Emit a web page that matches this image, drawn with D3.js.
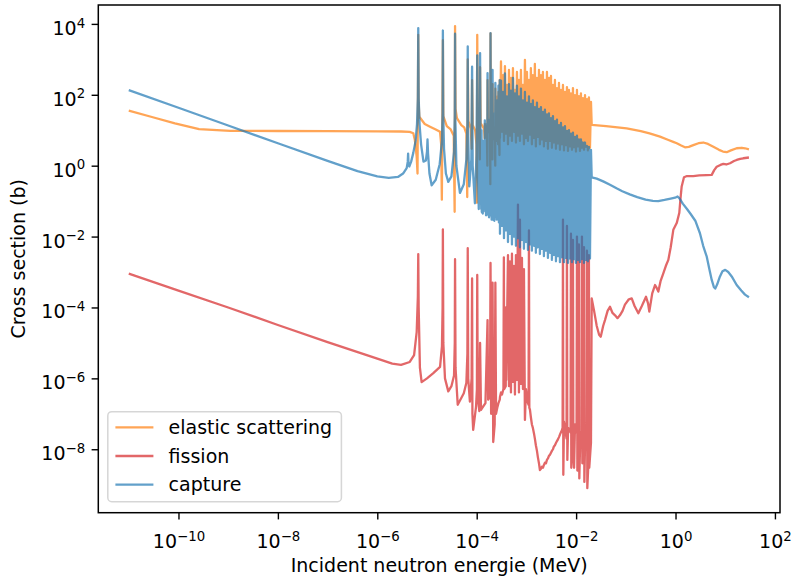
<!DOCTYPE html>
<html>
<head>
<meta charset="utf-8">
<script src="https://cdn.jsdelivr.net/npm/d3@7"></script>
<style>
  body { margin: 0; background: #fff; }
  text { font-family: "DejaVu Sans", sans-serif; }
</style>
</head>
<body>
<svg id="chart" width="792" height="580"></svg>
<script>
// ---------- data (energy in MeV, cross section in barns) ----------

// Thermal and low resolved-resonance range
const elasticLow = [
  [1e-11, 35.5], [2.8e-11, 24], [8.5e-11, 15.7], [2.6e-10, 10.8], [1.1e-9, 9.6], [1e-8, 9.5],
  [1e-7, 9.4], [1e-6, 9.3], [3e-6, 9.2], [4.5e-6, 9.0], [5.3e-6, 8.2], [5.7e-6, 5.3], [6.2e-6, 1.8],
  [6.45e-6, 0.6], [6.67e-6, 4900], [6.8e-6, 60], [7.0e-6, 24], [9.0e-6, 15], [1.15e-5, 12.6],
  [1.5e-5, 10.5], [1.83e-5, 9], [1.93e-5, 4], [1.99e-5, 0.11], [2.087e-5, 3500], [2.13e-5, 25],
  [2.5e-5, 13], [3.0e-5, 10.5], [3.45e-5, 7], [3.6e-5, 0.05], [3.668e-5, 8700], [3.75e-5, 40],
  [4.0e-5, 22], [4.9e-5, 14], [5.6e-5, 12], [6.2e-5, 8], [6.45e-5, 0.13], [6.603e-5, 1000],
  [6.8e-5, 18], [7.6e-5, 11], [7.95e-5, 3], [8.075e-5, 260], [8.3e-5, 14], [9.3e-5, 10],
  [9.9e-5, 4], [1.01e-4, 0.09], [1.025e-4, 4900], [1.05e-4, 20], [1.12e-4, 10], [1.155e-4, 1.5],
  [1.169e-4, 600], [1.2e-4, 16], [1.4e-4, 11], [1.45e-4, 6], [1.457e-4, 15], [1.6e-4, 9],
  [1.64e-4, 1], [1.653e-4, 260], [1.7e-4, 14], [1.85e-4, 8], [1.88e-4, 0.3], [1.897e-4, 5400],
  [1.93e-4, 16], [2.05e-4, 7], [2.07e-4, 1.5], [2.085e-4, 200], [2.12e-4, 13], [2.33e-4, 5],
  [2.36e-4, 1], [2.374e-4, 150], [2.42e-4, 12], [2.49e-4, 5], [2.506e-4, 30], [2.6e-4, 6],
  [2.637e-4, 90], [2.69e-4, 4], [2.737e-4, 120], [2.8e-4, 12], [2.87e-4, 2], [2.91e-4, 260]
];

const fissionLow = [
  [1e-11, 9e-4], [1e-10, 3e-4], [1e-9, 1e-4], [1e-8, 3.2e-5], [1e-7, 1.05e-5], [1e-6, 3.6e-6],
  [2e-6, 2.6e-6], [3.0e-6, 2.4e-6], [4.5e-6, 2.9e-6], [5.5e-6, 4.5e-6], [6.2e-6, 2e-5],
  [6.55e-6, 2e-4], [6.67e-6, 3.2e-3], [6.8e-6, 1e-4], [7.2e-6, 2e-6], [7.8e-6, 7.8e-7],
  [1.0e-5, 1.0e-6], [1.34e-5, 1.4e-6], [1.83e-5, 2.1e-6], [2.0e-5, 8e-6], [2.06e-5, 1e-4],
  [2.087e-5, 0.016], [2.13e-5, 1e-5], [2.3e-5, 1e-6], [2.68e-5, 4.3e-7], [3.1e-5, 6e-7],
  [3.5e-5, 1.2e-6], [3.62e-5, 1e-5], [3.668e-5, 2.3e-3], [3.75e-5, 2e-6], [4.15e-5, 1.8e-7],
  [5.5e-5, 3.8e-7], [6.2e-5, 7.5e-7], [6.5e-5, 5e-6], [6.603e-5, 4.7e-3], [6.75e-5, 1e-6],
  [7.3e-5, 2.2e-7], [7.9e-5, 1e-6], [8.075e-5, 6.6e-4], [8.2e-5, 1e-7], [8.5e-5, 3.5e-8],
  [9.7e-5, 1.6e-7], [1.01e-4, 5e-7], [1.025e-4, 8.3e-4], [1.05e-4, 3e-7], [1.13e-4, 1.2e-7],
  [1.169e-4, 1e-5], [1.22e-4, 1.3e-7], [1.5e-4, 2e-7], [1.653e-4, 4.4e-5], [1.7e-4, 2.5e-7],
  [1.85e-4, 3e-7], [1.897e-4, 1.8e-3], [1.95e-4, 1e-7], [2.05e-4, 2e-7], [2.085e-4, 5e-4],
  [2.15e-4, 1.6e-8], [2.3e-4, 5e-8], [2.374e-4, 5e-4], [2.45e-4, 1e-7], [2.6e-4, 1.5e-7],
  [2.737e-4, 2e-7], [2.91e-4, 2.5e-7]
];

const captureLow = [
  [1e-11, 136], [1e-10, 43], [1e-9, 13.6], [1e-8, 4.3], [1e-7, 1.37], [4e-7, 0.70], [1e-6, 0.5],
  [1.7e-6, 0.45], [2.6e-6, 0.48], [3.3e-6, 0.6], [3.9e-6, 0.85], [4.1e-6, 1.3], [4.17e-6, 2.2],
  [4.25e-6, 1.1], [4.4e-6, 0.95], [4.8e-6, 1.3], [5.3e-6, 2.3], [5.9e-6, 5], [6.3e-6, 15],
  [6.55e-6, 80], [6.67e-6, 7600], [6.8e-6, 80], [7.1e-6, 14], [7.6e-6, 4], [8.5e-6, 1.3],
  [9.5e-6, 1.4], [1.0e-5, 2.5], [1.024e-5, 5.5], [1.05e-5, 2.2], [1.12e-5, 0.6], [1.24e-5, 0.28],
  [1.5e-5, 0.4], [1.8e-5, 1.1], [2.0e-5, 5], [2.06e-5, 30], [2.087e-5, 6500], [2.12e-5, 30],
  [2.2e-5, 3], [2.4e-5, 0.6], [2.68e-5, 0.35], [3.1e-5, 0.5], [3.5e-5, 2.5], [3.62e-5, 25],
  [3.668e-5, 5300], [3.72e-5, 20], [3.9e-5, 1], [4.6e-5, 0.17], [5.5e-5, 0.3], [6.2e-5, 1.5],
  [6.5e-5, 15], [6.603e-5, 2300], [6.7e-5, 10], [7.1e-5, 0.26], [7.8e-5, 1.5], [8.075e-5, 620],
  [8.3e-5, 1], [9.2e-5, 0.087], [9.9e-5, 2], [1.025e-4, 1300], [1.06e-4, 0.6], [1.1e-4, 0.06],
  [1.15e-4, 3], [1.169e-4, 1500], [1.2e-4, 0.8], [1.235e-4, 0.06], [1.249e-4, 10], [1.265e-4, 0.05],
  [1.325e-4, 0.045], [1.337e-4, 5], [1.35e-4, 0.05], [1.44e-4, 0.5], [1.457e-4, 19], [1.48e-4, 0.3],
  [1.51e-4, 0.05], [1.524e-4, 15], [1.54e-4, 0.04], [1.575e-4, 0.045], [1.589e-4, 8], [1.6e-4, 0.06],
  [1.63e-4, 1], [1.653e-4, 410], [1.68e-4, 0.5], [1.72e-4, 0.04], [1.731e-4, 20], [1.745e-4, 0.04],
  [1.755e-4, 0.04], [1.76e-4, 6], [1.77e-4, 0.035], [1.795e-4, 0.04], [1.804e-4, 12], [1.815e-4, 0.05],
  [1.87e-4, 2], [1.897e-4, 5500], [1.93e-4, 1.5], [1.95e-4, 0.04], [1.957e-4, 10], [1.966e-4, 0.04],
  [1.978e-4, 0.04], [1.987e-4, 25], [1.997e-4, 0.03], [2.018e-4, 0.035], [2.026e-4, 8], [2.04e-4, 0.1],
  [2.06e-4, 1], [2.085e-4, 500], [2.11e-4, 0.3], [2.116e-4, 0.1], [2.122e-4, 15], [2.13e-4, 0.03],
  [2.175e-4, 0.03], [2.182e-4, 30], [2.19e-4, 0.03], [2.265e-4, 0.028], [2.274e-4, 10], [2.283e-4, 0.03],
  [2.315e-4, 0.1], [2.323e-4, 20], [2.335e-4, 0.8], [2.374e-4, 215], [2.41e-4, 0.2], [2.418e-4, 0.2],
  [2.427e-4, 40], [2.437e-4, 0.04], [2.47e-4, 0.04], [2.506e-4, 37], [2.53e-4, 0.035], [2.539e-4, 12],
  [2.55e-4, 0.03], [2.562e-4, 0.035], [2.569e-4, 20], [2.578e-4, 0.04], [2.585e-4, 0.04], [2.59e-4, 8],
  [2.6e-4, 0.1], [2.62e-4, 0.3], [2.637e-4, 71], [2.69e-4, 0.04], [2.737e-4, 180], [2.76e-4, 0.04],
  [2.77e-4, 15], [2.78e-4, 0.03], [2.791e-4, 30], [2.8e-4, 0.025], [2.82e-4, 0.025], [2.827e-4, 10],
  [2.835e-4, 0.03], [2.87e-4, 0.03], [2.879e-4, 25], [2.886e-4, 0.05], [2.91e-4, 260]
];

// Dense resolved-resonance range: shared energy points for elastic and capture
const denseEnergy = [
  2.94e-4, 3.08e-4, 3.23e-4, 3.38e-4, 3.54e-4, 3.70e-4, 3.88e-4, 4.06e-4, 4.26e-4, 4.46e-4,
  4.67e-4, 4.89e-4, 5.12e-4, 5.36e-4, 5.62e-4, 5.88e-4, 6.16e-4, 6.45e-4, 6.76e-4, 7.08e-4,
  7.41e-4, 7.76e-4, 8.13e-4, 8.52e-4, 8.92e-4, 9.34e-4, 9.79e-4, 1.025e-3, 1.074e-3, 1.125e-3,
  1.18e-3, 1.23e-3, 1.29e-3, 1.35e-3, 1.42e-3, 1.48e-3, 1.55e-3, 1.63e-3, 1.70e-3, 1.79e-3,
  1.87e-3, 1.96e-3, 2.05e-3, 2.15e-3, 2.25e-3, 2.36e-3, 2.47e-3, 2.59e-3, 2.71e-3, 2.84e-3,
  2.98e-3, 3.12e-3, 3.26e-3, 3.42e-3, 3.58e-3, 3.75e-3, 3.93e-3, 4.12e-3, 4.31e-3, 4.52e-3,
  4.73e-3, 4.96e-3, 5.19e-3, 5.44e-3, 5.70e-3, 5.97e-3, 6.25e-3, 6.54e-3, 6.85e-3, 7.18e-3,
  7.52e-3, 7.87e-3, 8.25e-3, 8.64e-3, 9.05e-3, 9.48e-3, 9.93e-3, 1.04e-2, 1.09e-2, 1.14e-2,
  1.195e-2, 1.25e-2, 1.31e-2, 1.37e-2, 1.44e-2, 1.51e-2, 1.58e-2, 1.65e-2, 1.73e-2, 1.81e-2,
  1.90e-2, 1.99e-2
];

const elasticDense = [
  6, 870, 9, 360, 5, 640, 8, 190, 4, 500,
  7, 300, 5, 560, 9, 137, 4.5, 440, 7, 263,
  5, 500, 8, 190, 4, 960, 6, 440, 5, 263,
  7.5, 560, 4, 360, 6, 740, 3.5, 300, 6.5, 500,
  4, 360, 5.5, 440, 3.5, 263, 5, 440, 3, 300,
  5, 340, 3.2, 190, 4.5, 263, 3, 155, 4.2, 215,
  2.8, 137, 4, 190, 2.7, 120, 3.8, 165, 2.6, 137,
  3.5, 110, 2.8, 155, 3.3, 98, 2.5, 137, 3.5, 92,
  2.6, 110, 3.2, 80, 2.8, 98, 3.4, 75, 2.7, 85,
  3.2, 63
];

const captureDense = [
  0.012, 250, 0.02, 120, 0.009, 400, 0.015, 90, 0.007, 200,
  0.012, 130, 0.006, 300, 0.01, 110, 0.0055, 180, 0.009, 90,
  0.005, 150, 0.008, 70, 0.0045, 120, 0.007, 60, 0.0042, 90,
  0.006, 55, 0.004, 70, 0.0055, 45, 0.0035, 60, 0.005, 40,
  0.0032, 45, 0.0045, 33, 0.0028, 38, 0.004, 28, 0.0025, 30,
  0.0035, 22, 0.0022, 25, 0.003, 18, 0.002, 20, 0.0028, 14,
  0.0019, 16, 0.0026, 12, 0.0019, 13, 0.0025, 9.5, 0.0018, 10,
  0.0024, 8, 0.0019, 8.5, 0.0023, 6.5, 0.0018, 7, 0.0022, 5.5,
  0.0019, 5.5, 0.0023, 4.5, 0.0018, 4.5, 0.0022, 3.6, 0.002, 3.4,
  0.0024, 2.8
];

// Fission across the same range, with its own (narrower) resonance points
const fissionDense = [
  [2.94e-4, 3e-7], [3.08e-4, 4e-7], [3.23e-4, 3.5e-7], [3.45e-4, 5e-7], [3.52e-4, 2.6e-3],
  [3.58e-4, 5e-7], [3.84e-4, 6e-7], [3.88e-4, 1.0e-4], [3.93e-4, 9e-7],
  [4.26e-4, 3.0e-3], [4.46e-4, 6e-7], [4.67e-4, 2.0e-3], [4.89e-4, 4e-7], [5.12e-4, 3.3e-3],
  [5.36e-4, 8e-7], [5.62e-4, 1.5e-3], [5.88e-4, 3.5e-7], [6.16e-4, 3.0e-3], [6.45e-4, 9e-7],
  [6.76e-4, 0.08], [7.08e-4, 4e-7], [7.41e-4, 0.03], [7.76e-4, 7e-7], [8.13e-4, 2.5e-3],
  [8.52e-4, 5e-7], [8.92e-4, 1.2e-3], [9.34e-4, 6.7e-8], [9.79e-4, 5e-7], [1.025e-3, 3e-7],
  [1.074e-3, 2e-7], [1.105e-3, 1.8e-7], [1.125e-3, 0.015], [1.145e-3, 1.5e-7], [1.18e-3, 1.3e-7],
  [1.23e-3, 8e-8], [1.29e-3, 5e-8], [1.35e-3, 4e-8], [1.42e-3, 2.8e-8], [1.48e-3, 2e-8],
  [1.55e-3, 1.3e-8], [1.63e-3, 9e-9], [1.70e-3, 6e-9], [1.79e-3, 4e-9], [1.87e-3, 2.6e-9],
  [1.96e-3, 2.8e-9], [2.05e-3, 3.2e-9], [2.15e-3, 3.0e-9], [2.25e-3, 3.6e-9], [2.36e-3, 4.2e-9],
  [2.47e-3, 4.0e-9], [2.59e-3, 5e-9], [2.71e-3, 5.5e-9], [2.84e-3, 6.5e-9], [2.98e-3, 7e-9],
  [3.12e-3, 8e-9], [3.26e-3, 9e-9], [3.42e-3, 1.0e-8], [3.58e-3, 1.2e-8], [3.75e-3, 1.3e-8],
  [3.93e-3, 1.5e-8], [4.12e-3, 1.7e-8], [4.31e-3, 1.9e-8], [4.52e-3, 2.2e-8], [4.73e-3, 2.6e-8],
  [4.96e-3, 3e-8], [5.19e-3, 3.5e-8], [5.35e-3, 4e-8], [5.44e-3, 0.03], [5.53e-3, 1.9e-9],
  [5.7e-3, 6e-8], [6.42e-3, 2e-8], [6.54e-3, 0.02], [6.66e-3, 5e-9], [6.9e-3, 4e-8],
  [7.73e-3, 3e-8], [7.87e-3, 0.012], [8.0e-3, 3e-9], [8.5e-3, 1e-8], [8.64e-3, 0.008],
  [8.8e-3, 2e-8], [9.1e-3, 3e-9], [9.5e-3, 5e-8], [1.02e-2, 3e-8], [1.04e-2, 0.01],
  [1.06e-2, 2.5e-9], [1.12e-2, 1e-8], [1.14e-2, 0.006], [1.16e-2, 1.5e-9], [1.22e-2, 3e-8],
  [1.29e-2, 2e-8], [1.31e-2, 0.01], [1.335e-2, 4e-9], [1.415e-2, 1e-8], [1.44e-2, 0.005],
  [1.465e-2, 1.2e-9], [1.52e-2, 2e-8], [1.62e-2, 1e-8], [1.65e-2, 0.004], [1.68e-2, 8e-10],
  [1.78e-2, 5e-9], [1.81e-2, 0.003], [1.84e-2, 3e-9], [1.99e-2, 1.5e-8]
];

// Unresolved and fast range
const elasticFast = [
  [2.06e-2, 14.1], [4e-2, 13], [0.104, 11.3], [0.2, 9.5], [0.3, 8.2], [0.487, 6.6], [0.7, 5.4],
  [0.9, 4.7], [1.06, 4.3], [1.3, 3.7], [1.55, 3.3], [1.85, 3.4], [2.28, 3.8], [2.9, 4.3],
  [3.62, 4.5], [4.5, 4.1], [5.77, 3.4], [7.5, 2.8], [9, 2.5], [10.7, 2.4], [13, 2.7], [17.0, 3.1],
  [21.6, 3.2], [25, 3.1], [30, 2.9]
];

const fissionFast = [
  [2.06e-2, 1.8e-4], [2.3e-2, 8e-5], [2.6e-2, 3e-5], [2.9e-2, 1.7e-5], [3.13e-2, 1.5e-5],
  [3.5e-2, 3e-5], [3.81e-2, 4.4e-5], [4.3e-2, 8e-5], [4.8e-2, 1.05e-4], [5.4e-2, 7e-5],
  [6.07e-2, 6e-5], [6.8e-2, 5e-5], [7.6e-2, 6e-5], [8.6e-2, 8e-5], [9.6e-2, 1.2e-4],
  [0.115, 1.7e-4], [0.1315, 1.8e-4], [0.15, 1.1e-4], [0.1786, 6.9e-5], [0.21, 1.1e-4],
  [0.255, 2.0e-4], [0.28, 1.3e-4], [0.297, 7.6e-5], [0.34, 2.5e-4], [0.387, 4.3e-4],
  [0.42, 3.5e-4], [0.451, 2.8e-4], [0.5, 5.5e-4], [0.568, 9.1e-4], [0.64, 1.5e-3],
  [0.717, 2.2e-3], [0.8, 5e-3], [0.903, 1.55e-2], [1.057, 2.4e-2], [1.19, 4.6e-2],
  [1.26, 0.12], [1.33, 0.26], [1.48, 0.47], [1.7, 0.51], [2.28, 0.51], [3.0, 0.53],
  [4.2, 0.54], [5.35, 0.55], [6.0, 0.75], [6.74, 0.93], [8, 1.05], [9.16, 1.12], [10.5, 1.08],
  [12.5, 1.17], [15, 1.35], [17.0, 1.45], [20, 1.55], [23.1, 1.62], [30, 1.7]
];

const captureFast = [
  [2.06e-2, 0.47], [2.6e-2, 0.43], [3.5e-2, 0.36], [4.8e-2, 0.29], [6.5e-2, 0.23], [8.5e-2, 0.19],
  [0.12, 0.155], [0.17, 0.13], [0.25, 0.11], [0.35, 0.102], [0.45, 0.1], [0.6, 0.108],
  [0.8, 0.118], [0.98, 0.125], [1.1, 0.135], [1.2, 0.12], [1.4, 0.085], [1.7, 0.06],
  [2.0, 0.044], [2.5, 0.028], [3.1, 0.0124], [3.6, 0.0055], [4.25, 0.0027], [4.8, 1.2e-3],
  [5.35, 6e-4], [5.9, 3.8e-4], [6.3, 3.4e-4], [6.9, 4.5e-4], [7.8, 7.4e-4], [8.8, 1.05e-3],
  [10.0, 1.15e-3], [11.5, 1.0e-3], [13.5, 7.5e-4], [17.0, 4.3e-4], [21, 3.0e-4], [25, 2.3e-4],
  [30, 1.95e-4]
];

const xTickValues = [1e-10, 1e-8, 1e-6, 1e-4, 1e-2, 1e0, 1e2];
const yTickValues = [1e-8, 1e-6, 1e-4, 1e-2, 1e0, 1e2, 1e4];

const reactionNames = ["elastic scattering", "fission", "capture"];
const reactionColors = ["#ff7f0e", "#d62728", "#1f77b4"];

// ---------- assemble series ----------
const onDenseGrid = values => denseEnergy.map((e, i) => [e, values[i]]);
const series = [
  elasticLow.concat(onDenseGrid(elasticDense), elasticFast),
  fissionLow.concat(fissionDense, fissionFast),
  captureLow.concat(onDenseGrid(captureDense), captureFast)
];

// ---------- layout ----------
const width = 792, height = 580;
const margin = { left: 98.3, right: 12, top: 5, bottom: 67.3 };
const fontSize = 19;

const svg = d3.select("#chart");
svg.append("rect").attr("width", width).attr("height", height).attr("fill", "#fff");

const x = d3.scaleLog()
  .domain([Math.pow(10, -11.613), Math.pow(10, 2.102)])
  .range([margin.left, width - margin.right]);
const y = d3.scaleLog()
  .domain([Math.pow(10, -9.79), Math.pow(10, 4.533)])
  .range([height - margin.bottom, margin.top]);

svg.append("clipPath").attr("id", "plot-clip")
  .append("rect")
  .attr("x", x.range()[0]).attr("y", y.range()[1])
  .attr("width", x.range()[1] - x.range()[0])
  .attr("height", y.range()[0] - y.range()[1]);

const line = d3.line().x(d => x(d[0])).y(d => y(d[1]));

const lines = svg.append("g").attr("clip-path", "url(#plot-clip)");
series.forEach((s, i) => {
  lines.append("path")
    .datum(s)
    .attr("d", line)
    .attr("fill", "none")
    .attr("stroke", reactionColors[i])
    .attr("stroke-opacity", 0.7)
    .attr("stroke-width", 2.3)
    .attr("stroke-linejoin", "round");
});

// ---------- axes ----------
function powerLabel(d) {
  const t = d3.select(this);
  const e = Math.round(Math.log10(d));
  t.text(null);
  t.append("tspan").text("10");
  t.append("tspan")
    .attr("font-size", "0.7em")
    .attr("dy", "-0.55em")
    .text(e < 0 ? "\u2212" + (-e) : String(e));
}

const xAxis = svg.append("g")
  .attr("transform", `translate(0,${y.range()[0]})`)
  .call(d3.axisBottom(x).tickValues(xTickValues).tickSize(6.7).tickPadding(6.5).tickFormat(() => ""));
xAxis.select(".domain").remove();
xAxis.selectAll(".tick line").attr("stroke", "#000").attr("stroke-width", 1.4);
xAxis.selectAll(".tick text")
  .attr("font-size", fontSize).attr("fill", "#000")
  .attr("font-family", "DejaVu Sans, sans-serif")
  .attr("dy", "1.17em")
  .each(powerLabel);

const yAxis = svg.append("g")
  .attr("transform", `translate(${x.range()[0]},0)`)
  .call(d3.axisLeft(y).tickValues(yTickValues).tickSize(6.7).tickPadding(6.5).tickFormat(() => ""));
yAxis.select(".domain").remove();
yAxis.selectAll(".tick line").attr("stroke", "#000").attr("stroke-width", 1.4);
yAxis.selectAll(".tick text")
  .attr("font-size", fontSize).attr("fill", "#000")
  .attr("font-family", "DejaVu Sans, sans-serif")
  .attr("dy", "0.55em")
  .each(powerLabel);

// frame
svg.append("rect")
  .attr("x", x.range()[0]).attr("y", y.range()[1])
  .attr("width", x.range()[1] - x.range()[0])
  .attr("height", y.range()[0] - y.range()[1])
  .attr("fill", "none").attr("stroke", "#000").attr("stroke-width", 1.5);

// axis titles
svg.append("text")
  .attr("x", (x.range()[0] + x.range()[1]) / 2)
  .attr("y", 572)
  .attr("text-anchor", "middle")
  .attr("font-size", fontSize)
  .text("Incident neutron energie (MeV)");

svg.append("text")
  .attr("transform", `translate(25,${(y.range()[0] + y.range()[1]) / 2}) rotate(-90)`)
  .attr("text-anchor", "middle")
  .attr("font-size", fontSize)
  .text("Cross section (b)");

// ---------- legend ----------
const legendX = x.range()[0] + 9.5, legendY = 411.7;
const legend = svg.append("g").attr("transform", `translate(${legendX},${legendY})`);
legend.append("rect")
  .attr("width", 233.6).attr("height", 90)
  .attr("rx", 4).attr("ry", 4)
  .attr("fill", "#fff").attr("fill-opacity", 0.8)
  .attr("stroke", "#cccccc").attr("stroke-opacity", 0.8).attr("stroke-width", 1.5);

reactionNames.forEach((name, i) => {
  const cy = 15.6 + i * 28.7;
  legend.append("line")
    .attr("x1", 7.6).attr("x2", 45.6)
    .attr("y1", cy).attr("y2", cy)
    .attr("stroke", reactionColors[i]).attr("stroke-opacity", 0.7).attr("stroke-width", 2.3);
  legend.append("text")
    .attr("x", 60.8).attr("y", cy + 6.8)
    .attr("font-size", fontSize)
    .text(name);
});
</script>
</body>
</html>
